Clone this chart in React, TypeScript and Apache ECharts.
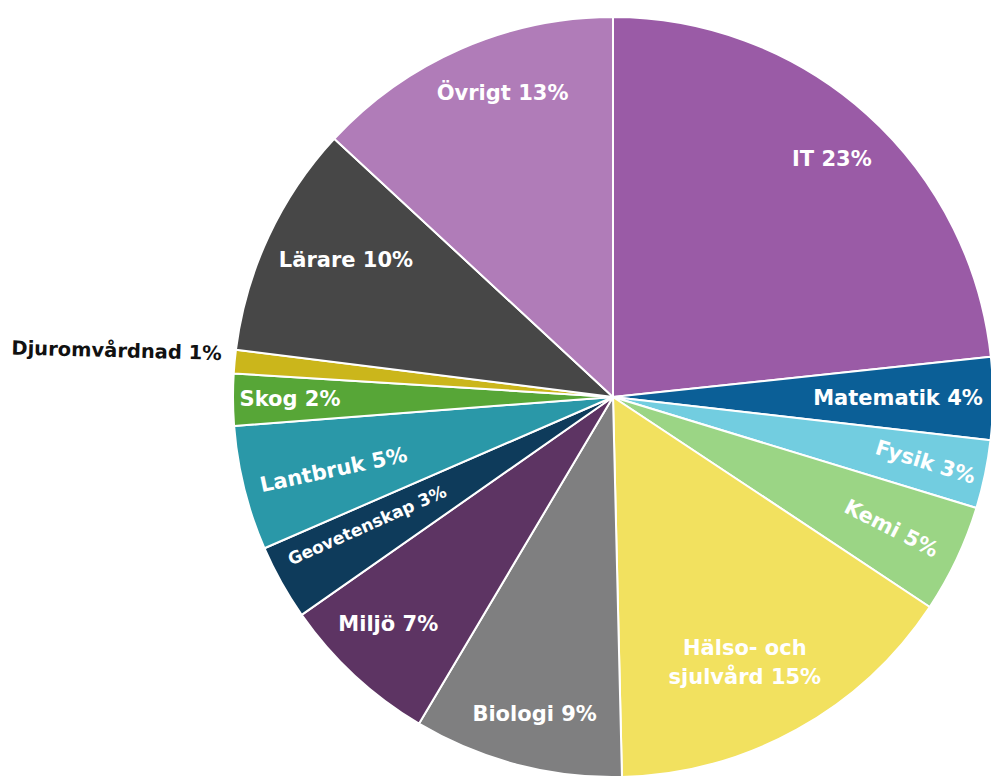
import React, { useEffect, useRef } from "react";
import * as echarts from "echarts";

// ---- data ----
const categories = [
  "IT",
  "Matematik",
  "Fysik",
  "Kemi",
  "Hälso- och sjulvård",
  "Biologi",
  "Miljö",
  "Geovetenskap",
  "Lantbruk",
  "Skog",
  "Djuromvårdnad",
  "Lärare",
  "Övrigt",
];
// printed percentages
const labelPercents = [23, 4, 3, 5, 15, 9, 7, 3, 5, 2, 1, 10, 13];
// slice sizes
const sliceShares = [23.3, 3.5, 2.9, 4.6, 15.3, 8.9, 6.75, 3.2, 5.3, 2.2, 1.0, 9.9, 13.1];

// ---- styles ----
const colors = [
  "#9a5ba6",
  "#0b5f97",
  "#72cde0",
  "#9bd585",
  "#f2e15f",
  "#7f7f80",
  "#5d3463",
  "#0e3b5b",
  "#2a98a8",
  "#57a637",
  "#cbb61b",
  "#474747",
  "#b07cb8",
];
const CX = 613;
const CY = 397;
const R = 380;
// label placement: fraction of radius, angular offset (deg), rotation (deg), font size
const labelFrac = [0.85, 0.75, 0.84, 0.81, 0.78, 0.86, 0.84, 0.73, 0.76, 0.85, 1.036, 0.79, 0.85];
const labelAngleOff = [0.7, 0, 0, 0, 2.5, -0.8, 1.9, 1.7, -0.7, 0, 1, 2.2, 3.6];
const labelRotate = [0, 0, -17, -27, 0, 0, 0, 24, 12, 0, -1.5, 0, 0];
const labelSize = [21, 21, 21, 21, 21, 21, 21, 17, 21, 21, 19.5, 21, 21];

const FONT = "'DejaVu Sans', sans-serif";

export default function App() {
  const ref = useRef<HTMLDivElement>(null);

  useEffect(() => {
    document.body.style.margin = "0";
    if (!ref.current) return;
    const chart = echarts.init(ref.current, undefined, { renderer: "svg" });

    const total = sliceShares.reduce((a, b) => a + b, 0);
    const midAngles: number[] = [];
    let cum = 0;
    sliceShares.forEach((v) => {
      midAngles.push(((cum + v / 2) / total) * 360);
      cum += v;
    });

    const data = categories.map((name, i) => ({
      name,
      value: sliceShares[i],
      itemStyle: { color: colors[i] },
      label: {
        fontSize: labelSize[i],
        color: i === 10 ? "#111111" : "#ffffff",
      },
    }));

    chart.setOption({
      animation: false,
      backgroundColor: "#ffffff",
      series: [
        {
          type: "pie",
          center: [CX, CY],
          radius: [0, R],
          startAngle: 90,
          clockwise: true,
          avoidLabelOverlap: false,
          itemStyle: { borderColor: "#ffffff", borderWidth: 2 },
          label: {
            show: true,
            position: "inside",
            fontFamily: FONT,
            fontWeight: 700,
            fontSize: 21,
            lineHeight: 29,
            color: "#ffffff",
            align: "center",
            formatter: (p: any) => {
              const nm = String(p.name).replace(" sjulvård", "\nsjulvård");
              return `${nm} ${labelPercents[p.dataIndex]}%`;
            },
          },
          labelLine: { show: false },
          labelLayout: (params: any) => {
            const i = params.dataIndex;
            const a = ((midAngles[i] + labelAngleOff[i]) * Math.PI) / 180;
            const r = labelFrac[i] * R;
            return {
              x: CX + r * Math.sin(a),
              y: CY - r * Math.cos(a),
              align: i === 10 ? "right" : "center",
              verticalAlign: "middle",
              rotate: labelRotate[i],
            };
          },
          data,
        },
      ],
    });

    return () => chart.dispose();
  }, []);

  return <div ref={ref} style={{ width: 991, height: 776 }} />;
}
